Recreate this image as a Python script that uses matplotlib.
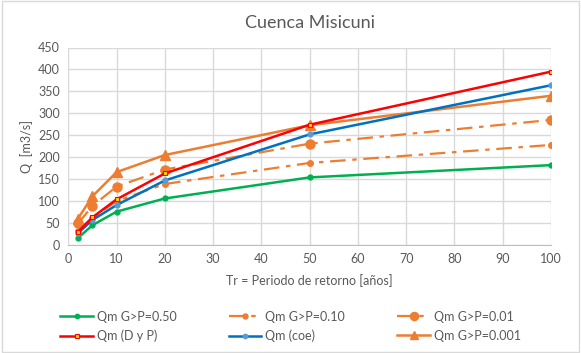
import matplotlib.pyplot as plt
from matplotlib.patches import Rectangle

# return periods (years)
tr = [2, 5, 10, 20, 50, 100]

# caudales maximos [m3/s]
q_050 = [16, 45, 76, 106, 154, 182]
q_010 = [33, 62, 100, 139, 187, 228]
q_001 = [49, 89, 133, 172, 231, 285]
q_dyp = [30, 63, 104, 163, 274, 395]
q_coe = [27, 57, 91, 147, 252, 364]
q_0001 = [60, 111, 166, 205, 273, 340]

labels = ["Qm G>P=0.50", "Qm G>P=0.10", "Qm G>P=0.01",
          "Qm (D y P)", "Qm (coe)", "Qm G>P=0.001"]

plt.rcParams['font.family'] = ['Lato', 'DejaVu Sans']
txt = '#595959'
orange = '#ED7D31'

fig = plt.figure(figsize=(5.81, 3.53), dpi=100)
ax = fig.add_axes([68.3 / 581, 1 - 245 / 353, (551 - 68.3) / 581, (245 - 47.5) / 353])

dashdot = (0, (7, 3, 2, 3))
l1, = ax.plot(tr, q_050, color='#00B050', lw=1.8, marker='o', ms=3.5, label=labels[0])
l2, = ax.plot(tr, q_010, color=orange, lw=1.6, ls=dashdot, marker='o', ms=4, label=labels[1])
l3, = ax.plot(tr, q_001, color=orange, lw=1.6, ls=dashdot, marker='o', ms=6.5, label=labels[2])
l6, = ax.plot(tr, q_0001, color=orange, lw=1.8, marker='^', ms=6.5, label=labels[5])
l5, = ax.plot(tr, q_coe, color='#0070C0', lw=1.8, marker='o', ms=3.5,
              mfc='#5B9BD5', mec='#5B9BD5', label=labels[4])
l4, = ax.plot(tr, q_dyp, color='#FF0000', lw=1.8, marker='s', ms=3,
              mfc='#FFD700', mec='#FF0000', mew=0.8, label=labels[3])

ax.set_xlim(0, 100)
ax.set_ylim(0, 450)
ax.set_xticks(range(0, 101, 10))
ax.set_yticks(range(0, 451, 50))
ax.grid(True, color='#D9D9D9', lw=1)
ax.set_axisbelow(True)
for s in ['top', 'right', 'left']:
    ax.spines[s].set_visible(False)
ax.spines['bottom'].set_color('#BFBFBF')
ax.tick_params(length=0, labelsize=9, colors=txt, pad=6)

ax.set_title("Cuenca Misicuni", fontsize=13, color=txt, pad=14)
ax.set_xlabel("Tr = Periodo de retorno [años]", fontsize=9, color=txt, labelpad=6)
ax.set_ylabel("Q  [m3/s]", fontsize=9, color=txt, labelpad=4)

fig.legend([l1, l4, l2, l5, l3, l6],
           [labels[0], labels[3], labels[1], labels[4], labels[2], labels[5]],
           ncol=3, loc='center', bbox_to_anchor=(0.5, 1 - 326.5 / 353),
           frameon=False, fontsize=9, labelcolor=txt, handlelength=2.6,
           columnspacing=4.2, handletextpad=0.3, labelspacing=0.55, markerscale=0.9)

fig.patches.append(Rectangle((0.003, 0.003), 0.994, 0.994, transform=fig.transFigure,
                             fill=False, ec='#D9D9D9', lw=1))

fig.savefig("out.png", dpi=100)
